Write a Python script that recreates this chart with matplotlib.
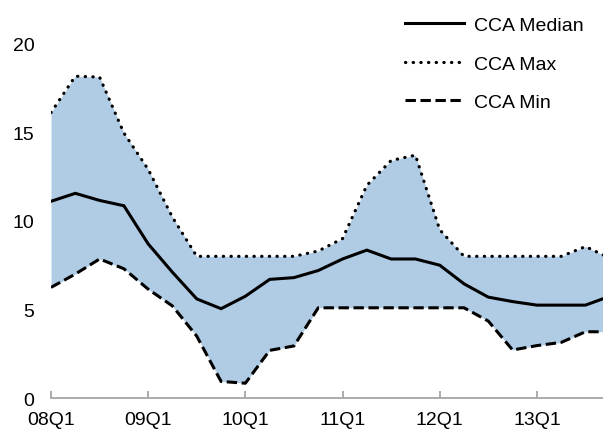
import matplotlib
matplotlib.use("Agg")
import matplotlib.pyplot as plt

plt.rcParams['font.family'] = ['Liberation Sans', 'DejaVu Sans']

# --- data (quarterly, 08Q1 .. 13Q4) ---
quarters = [f"{y:02d}Q{q}" for y in range(8, 14) for q in range(1, 5)]
cca_median = [11.1, 11.55, 11.15, 10.85, 8.7, 7.1, 5.6, 5.05, 5.75, 6.7,
              6.8, 7.2, 7.85, 8.35, 7.85, 7.85, 7.5, 6.45, 5.7, 5.45,
              5.25, 5.25, 5.25, 5.75]
cca_max = [16.1, 18.15, 18.1, 14.95, 12.9, 10.2, 8.0, 8.0, 8.0, 8.0,
           8.0, 8.3, 9.0, 12.0, 13.4, 13.7, 9.5, 8.0, 8.0, 8.0,
           8.0, 8.0, 8.55, 7.9]
cca_min = [6.25, 7.0, 7.85, 7.3, 6.15, 5.2, 3.5, 0.95, 0.85, 2.7,
           2.95, 5.1, 5.1, 5.1, 5.1, 5.1, 5.1, 5.1, 4.35, 2.72,
           2.97, 3.15, 3.75, 3.75]
tick_labels = ["08Q1", "09Q1", "10Q1", "11Q1", "12Q1", "13Q1"]

W, H = 603, 431
fig = plt.figure(figsize=(W / 100, H / 100), dpi=100)
ax = fig.add_axes([51 / W, 31.7 / H, 1 - 51 / W, 1 - 31.7 / H])

x = list(range(len(quarters)))
ax.fill_between(x, cca_min, cca_max, color='#B0CCE4', linewidth=0, zorder=1)
ax.plot(x, cca_median, color='black', linewidth=2.2, solid_joinstyle='miter',
        label='CCA Median', zorder=3)
ax.plot(x, cca_max, color='black', linewidth=2.3, linestyle=(0, (0.1, 2.3)),
        dash_capstyle='round', label='CCA Max', zorder=3)
ax.plot(x, cca_min, color='black', linewidth=2.2, linestyle=(0, (3.4, 1.5)),
        label='CCA Min', zorder=3)

ax.set_xlim(0, 22.72)
ax.set_ylim(0, 22.5)

tick_pos = [quarters.index(t) for t in tick_labels]
ax.set_xticks(tick_pos)
ax.set_xticklabels(tick_labels)
ax.set_yticks([0, 5, 10, 15, 20])

for side in ['top', 'right', 'left']:
    ax.spines[side].set_visible(False)
ax.spines['bottom'].set_color('#A6A6A6')
ax.spines['bottom'].set_linewidth(1.3)

ax.tick_params(axis='x', direction='in', length=5, width=1.3, color='#A6A6A6',
               labelsize=14, pad=9)
ax.tick_params(axis='y', length=0, labelsize=14, pad=12)

fig.legend(loc='upper left', bbox_to_anchor=(405 / W, 1 - 17.5 / H),
           frameon=False, fontsize=14, handlelength=3.05,
           handletextpad=0.5, labelspacing=1.07, borderpad=0,
           borderaxespad=0)

fig.savefig('out.png', dpi=100)
